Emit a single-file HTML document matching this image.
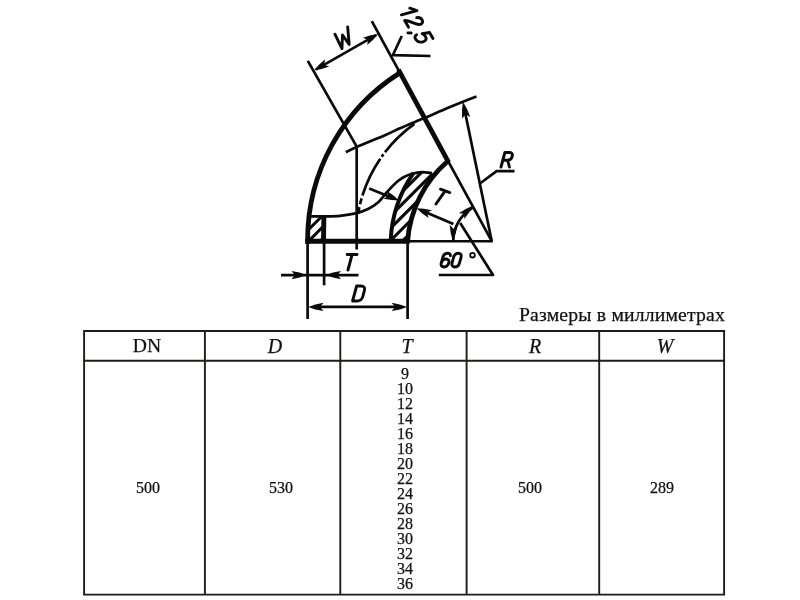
<!DOCTYPE html><html><head><meta charset="utf-8"><title>drawing</title><style>
html,body{margin:0;padding:0;background:#fff;}
body{width:800px;height:600px;position:relative;overflow:hidden;font-family:"Liberation Serif",serif;color:#111;}
.ln{position:absolute;background:#1f1b18;}
.t{position:absolute;white-space:nowrap;line-height:1;will-change:transform;-webkit-text-stroke:0.25px #111;}
.h{font-size:20px;}
.n{font-size:16px;}
</style></head><body>
<svg width="800" height="600" viewBox="0 0 800 600" style="position:absolute;left:0;top:0">
<g fill="none" stroke="#0a0a0a" stroke-width="2.70" stroke-linecap="butt" stroke-linejoin="round">
<path d="M 405,241.25 L 492.75,241.25"/>
<path d="M 371.8,21.2 L 491.75,241.20"/>
<path d="M 307.8,60.9 L 356.7,146.7 L 356.7,249.5"/>
<path d="M 316,69.4 L 376,35.1"/>
<path d="M 401.8,36 L 392.8,55.2 L 430.5,56"/>
<path d="M 345.80,152.30 C 347.62,151.42 350.17,149.85 356.70,147.00 C 363.23,144.15 377.78,138.32 385.00,135.20 C 392.22,132.08 395.00,130.52 400.00,128.30 C 405.00,126.08 410.83,123.65 415.00,121.90 C 419.17,120.15 419.17,120.28 425.00,117.80 C 430.83,115.32 441.42,110.57 450.00,107.00 C 458.58,103.43 472.08,98.17 476.50,96.40"/>
<path d="M 491.75,241.20 L 464.2,108"/>
<path d="M 480.6,183 L 496.6,171.2 L 514.5,171.2"/>
<path d="M 453.25,241.20 A 38.50,38.50 0 0 1 472.50,207.86"/>
<path d="M 460.2,223 L 493,275 L 438.8,275"/>
<path d="M 453.4,224 L 421,210.2"/>
<path d="M 369.2,188.6 L 394,198.5"/>
<path d="M 307.6,240 L 307.6,319"/>
<path d="M 324.1,240 L 324.1,285.3"/>
<path d="M 407.6,240 L 407.6,319"/>
<path d="M 281,275.1 L 358.5,275.1"/>
<path d="M 315,306.9 L 400,306.9"/>
<path d="M 307.50,216.40 C 310.42,216.40 319.58,216.50 325.00,216.40 C 330.42,216.30 334.92,216.30 340.00,215.80 C 345.08,215.30 350.83,214.53 355.50,213.40 C 360.17,212.27 364.25,210.82 368.00,209.00 C 371.75,207.18 374.75,205.42 378.00,202.50 C 381.25,199.58 384.42,194.88 387.50,191.50 C 390.58,188.12 393.75,184.62 396.50,182.20 C 399.25,179.78 401.42,178.40 404.00,177.00 C 406.58,175.60 409.00,174.60 412.00,173.80 C 415.00,173.00 418.67,172.30 422.00,172.20 C 425.33,172.10 430.33,173.03 432.00,173.20"/>
<path d="M 414.43,123.91 A 138.80,138.80 0 0 0 358.00,214.08" stroke-dasharray="41 2.5 3 2.5 41 3 6 3 20"/>
</g>
<g fill="none" stroke="#0a0a0a" stroke-width="4.80" stroke-linecap="butt" stroke-linejoin="miter">
<path d="M 307.6,243.6 L 307.6,240.2 A 197.70,197.70 0 0 1 399.85,72.90"/>
<path d="M 305.2,241.25 L 409.8,241.25"/>
<path d="M 398.4,69.6 L 448.6,162.3"/>
<path d="M 407.66,240.60 A 117.20,117.20 0 0 1 447.68,161.29"/>
</g>
<g fill="none" stroke="#0a0a0a" stroke-width="4">
<path d="M 390.70,240.60 A 127.00,127.00 0 0 1 413.57,172.85"/>
<path d="M 323.5,241.3 L 323.9,215.2" stroke-width="4.9"/>
</g>
<defs>
<clipPath id="c1"><path d="M 307.5,216.4 L 324.4,216.4 L 324.2,240.3 L 307.5,240.3 Z"/></clipPath>
<clipPath id="c2"><path d="M 391.50,240.60 L 391.66,237.61 L 391.88,234.61 L 392.18,231.63 L 392.55,228.65 L 392.99,225.68 L 393.50,222.72 L 394.07,219.78 L 394.72,216.85 L 395.44,213.93 L 396.22,211.04 L 397.08,208.16 L 398.00,205.30 L 398.98,202.47 L 400.04,199.66 L 401.16,196.88 L 402.35,194.12 L 403.60,191.39 L 404.91,188.69 L 406.29,186.03 L 407.73,183.39 L 409.24,180.80 L 410.80,178.24 L 412.42,175.71 L 414.11,173.23 L 422.00,172.20 L 432.00,173.20 L 435.98,172.99 L 433.98,175.36 L 432.04,177.78 L 430.16,180.26 L 428.35,182.78 L 426.61,185.36 L 424.94,187.97 L 423.33,190.63 L 421.80,193.33 L 420.34,196.08 L 418.95,198.86 L 417.64,201.67 L 416.40,204.52 L 415.24,207.40 L 414.15,210.31 L 413.15,213.25 L 412.22,216.21 L 411.36,219.20 L 410.59,222.21 L 409.90,225.24 L 409.29,228.28 L 408.76,231.35 L 408.31,234.42 L 407.95,237.50 L 407.66,240.60 Z"/></clipPath>
</defs>
<g stroke="#0a0a0a" stroke-width="3.0" fill="none" clip-path="url(#c1)">
<path d="M 292.20,246.00 l 30,-30"/>
<path d="M 303.70,246.00 l 30,-30"/>
<path d="M 315.20,246.00 l 30,-30"/>
</g>
<g stroke="#0a0a0a" stroke-width="3.1" fill="none" clip-path="url(#c2)">
<path d="M 372.80,295.50 l 90,-90"/>
<path d="M 372.80,283.10 l 90,-90"/>
<path d="M 372.80,270.70 l 90,-90"/>
<path d="M 372.80,258.30 l 90,-90"/>
<path d="M 372.80,245.90 l 90,-90"/>
<path d="M 372.80,233.50 l 90,-90"/>
<path d="M 372.80,221.10 l 90,-90"/>
<path d="M 372.80,208.70 l 90,-90"/>
<path d="M 372.80,196.30 l 90,-90"/>
<path d="M 372.80,183.90 l 90,-90"/>
<path d="M 372.80,171.50 l 90,-90"/>
<path d="M 372.80,159.10 l 90,-90"/>
<path d="M 372.80,146.70 l 90,-90"/>
<path d="M 372.80,134.30 l 90,-90"/>
<path d="M 372.80,121.90 l 90,-90"/>
</g>
<g fill="#0a0a0a" stroke="none">
<polygon points="314.17,70.45 318.99,64.76 325.06,59.31 324.14,64.69 329.26,66.59 321.51,69.12"/>
<polygon points="378.03,33.95 373.21,39.64 367.14,45.09 368.06,39.71 362.94,37.81 370.69,35.28"/>
<polygon points="462.90,101.81 466.94,108.83 470.38,117.10 465.49,114.20 462.16,118.82 462.01,109.86"/>
<polygon points="452.77,240.90 450.77,233.31 449.62,224.71 453.42,228.64 457.61,225.13 455.56,233.56"/>
<polygon points="472.57,205.86 469.06,212.41 464.32,219.01 464.14,213.72 458.87,213.16 465.79,208.89"/>
<polygon points="416.44,208.20 423.89,208.63 431.89,210.20 427.04,212.71 428.61,217.93 421.92,213.27"/>
<polygon points="399.06,200.39 391.61,200.09 383.58,198.66 388.38,196.07 386.73,190.87 393.49,195.42"/>
<polygon points="306.50,275.10 299.48,277.62 291.50,279.30 294.98,275.10 291.50,270.90 299.48,272.58"/>
<polygon points="326.00,275.10 333.02,272.58 341.00,270.90 337.52,275.10 341.00,279.30 333.02,277.62"/>
<polygon points="308.10,306.90 315.35,304.38 323.60,302.70 320.00,306.90 323.60,311.10 315.35,309.42"/>
<polygon points="407.10,306.90 399.85,309.42 391.60,311.10 395.20,306.90 391.60,302.70 399.85,304.38"/>
</g>
<g fill="none" stroke="#0a0a0a" stroke-width="2.9" stroke-linecap="round" stroke-linejoin="round">
<path d="M 334.91,34.20 L 341.97,48.60 L 342.49,35.00 L 349.18,44.44 L 347.66,26.84"/>
<path d="M 409.80,8.24 L 416.93,10.67 L 401.43,14.83 M 416.69,17.71 C 421.34,16.47 425.45,22.96 420.18,24.37 C 416.15,25.45 409.95,20.29 404.68,20.46 L 408.56,27.18 M 411.19,32.98 L 407.94,32.92 M 432.97,38.46 L 429.56,32.55 L 422.20,33.75 C 425.68,35.14 428.63,40.24 422.89,41.78 C 416.54,43.48 412.66,36.77 416.54,34.80"/>
<path d="M 501.00,167.00 L 504.89,152.50 L 509.67,152.50 C 514.46,152.50 512.40,160.19 507.61,160.19 L 502.83,160.19 M 507.61,160.19 L 509.41,167.00"/>
<path d="M 440.50,189.16 L 449.83,192.55 M 445.16,190.85 L 435.96,204.00"/>
<path d="M 450.42,255.68 C 450.66,252.23 444.17,252.23 442.88,257.06 L 441.25,263.14 C 439.88,268.24 447.33,268.24 448.78,262.86 C 450.18,257.62 442.73,257.62 441.32,262.86 M 452.09,262.86 L 453.57,257.34 C 455.05,251.82 462.50,251.82 461.02,257.34 L 459.54,262.86 C 458.06,268.38 450.61,268.38 452.09,262.86 Z"/>
<circle cx="472.5" cy="255.2" r="2.3" stroke-width="1.8"/>
<path d="M 347.15,254.50 L 357.07,254.50 M 352.11,254.50 L 347.96,270.00"/>
<path d="M 352.60,301.00 L 356.62,286.00 L 360.82,286.00 C 364.12,286.00 365.22,287.50 364.41,290.50 L 362.81,296.50 C 362.00,299.50 360.10,301.00 356.80,301.00 Z"/>
</g>
</svg>
<svg width="800" height="600" style="position:absolute;left:0;top:0"><path d="M 83.10,331.00 L 725.10,331.00 M 83.10,360.80 L 725.10,360.80 M 83.10,594.60 L 725.10,594.60 M 84.10,331.00 L 84.10,594.60 M 204.90,331.00 L 204.90,594.60 M 340.30,331.00 L 340.30,594.60 M 466.60,331.00 L 466.60,594.60 M 599.20,331.00 L 599.20,594.60 M 724.10,331.00 L 724.10,594.60" fill="none" stroke="#1f1b18" stroke-width="1.9"/></svg>
<div class="t h" style="left:621.60px;top:305.10px;transform:translateX(-50%);font-size:19.70px;letter-spacing:0.18px;">Размеры в миллиметрах</div>
<div class="t h" style="left:147.20px;top:335.69px;transform:translateX(-50%);font-size:19.60px;">DN</div>
<div class="t h" style="left:275.00px;top:336.45px;transform:translateX(-50%);font-size:20.00px;font-style:italic;">D</div>
<div class="t h" style="left:406.50px;top:336.45px;transform:translateX(-50%);font-size:20.00px;font-style:italic;">T</div>
<div class="t h" style="left:534.80px;top:336.45px;transform:translateX(-50%);font-size:20.00px;font-style:italic;">R</div>
<div class="t h" style="left:665.00px;top:336.25px;transform:translateX(-50%);font-size:20.00px;font-style:italic;">W</div>
<div class="t n" style="left:404.80px;top:365.80px;transform:translateX(-50%);font-size:16.00px;">9</div>
<div class="t n" style="left:404.80px;top:380.83px;transform:translateX(-50%);font-size:16.00px;">10</div>
<div class="t n" style="left:404.80px;top:395.86px;transform:translateX(-50%);font-size:16.00px;">12</div>
<div class="t n" style="left:404.80px;top:410.89px;transform:translateX(-50%);font-size:16.00px;">14</div>
<div class="t n" style="left:404.80px;top:425.92px;transform:translateX(-50%);font-size:16.00px;">16</div>
<div class="t n" style="left:404.80px;top:440.95px;transform:translateX(-50%);font-size:16.00px;">18</div>
<div class="t n" style="left:404.80px;top:455.98px;transform:translateX(-50%);font-size:16.00px;">20</div>
<div class="t n" style="left:404.80px;top:471.01px;transform:translateX(-50%);font-size:16.00px;">22</div>
<div class="t n" style="left:404.80px;top:486.04px;transform:translateX(-50%);font-size:16.00px;">24</div>
<div class="t n" style="left:404.80px;top:501.07px;transform:translateX(-50%);font-size:16.00px;">26</div>
<div class="t n" style="left:404.80px;top:516.10px;transform:translateX(-50%);font-size:16.00px;">28</div>
<div class="t n" style="left:404.80px;top:531.13px;transform:translateX(-50%);font-size:16.00px;">30</div>
<div class="t n" style="left:404.80px;top:546.16px;transform:translateX(-50%);font-size:16.00px;">32</div>
<div class="t n" style="left:404.80px;top:561.19px;transform:translateX(-50%);font-size:16.00px;">34</div>
<div class="t n" style="left:404.80px;top:576.22px;transform:translateX(-50%);font-size:16.00px;">36</div>
<div class="t n" style="left:147.60px;top:479.80px;transform:translateX(-50%);font-size:16.00px;">500</div>
<div class="t n" style="left:281.40px;top:479.80px;transform:translateX(-50%);font-size:16.00px;">530</div>
<div class="t n" style="left:529.60px;top:479.80px;transform:translateX(-50%);font-size:16.00px;">500</div>
<div class="t n" style="left:662.40px;top:479.80px;transform:translateX(-50%);font-size:16.00px;">289</div>
</body></html>
